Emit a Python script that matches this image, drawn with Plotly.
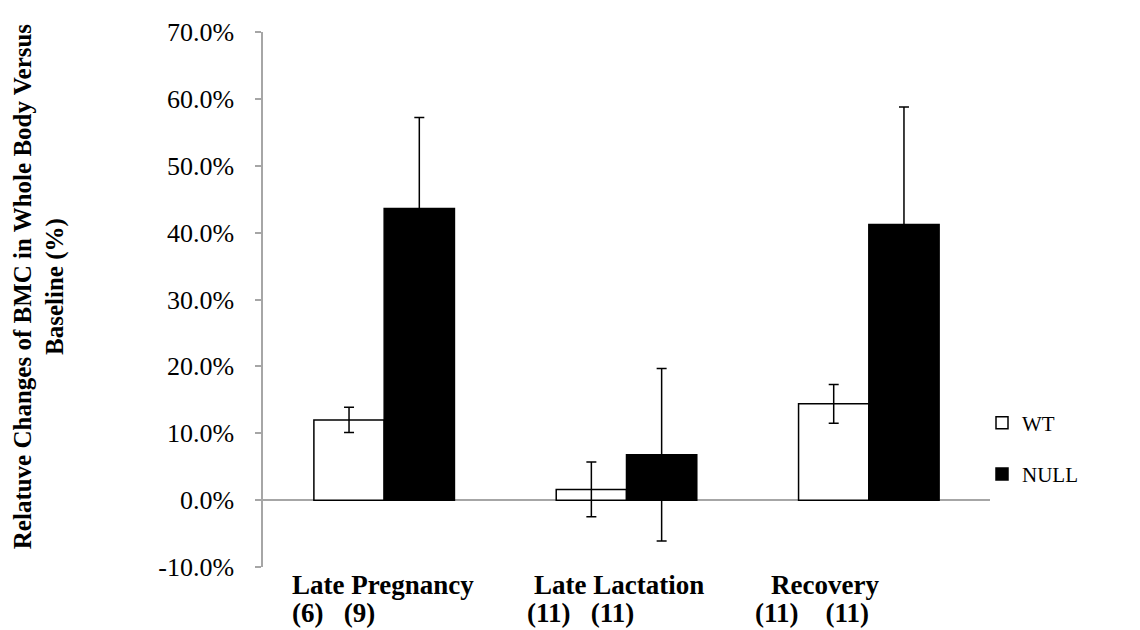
import plotly.graph_objects as go

categories = ["Late Pregnancy", "Late Lactation", "Recovery"]
group_sizes = ["(6)   (9)", "(11)   (11)", "(11)    (11)"]
wt_values = [12.0, 1.6, 14.4]
wt_errors = [1.9, 4.1, 2.9]
null_values = [43.6, 6.8, 41.2]
null_errors = [13.6, 12.9, 17.6]
tick_values = [-10, 0, 10, 20, 30, 40, 50, 60, 70]
tick_labels = ["-10.0%", "0.0%", "10.0%", "20.0%", "30.0%", "40.0%", "50.0%", "60.0%", "70.0%"]

SERIF = "Liberation Serif"

fig = go.Figure()
fig.add_trace(go.Bar(
    name="WT", x=categories, y=wt_values, legendgroup="a",
    marker=dict(color="white", line=dict(color="black", width=1.5)),
    error_y=dict(type="data", array=wt_errors, visible=True, color="black", thickness=1.5, width=5),
))
fig.add_trace(go.Bar(
    name="NULL", x=categories, y=null_values, legendgroup="b",
    marker=dict(color="black", line=dict(color="black", width=1.5)),
    error_y=dict(type="data", array=null_errors, visible=True, color="black", thickness=1.5, width=5),
))

line1_shift = [-94, -95, -100]
line2_shift = [-94, -102, -116]
annotations = []
for i, cat in enumerate(categories):
    annotations.append(dict(x=cat, xref="x", y=-0.034, yref="paper", text=f"<b>{cat}</b>",
                            showarrow=False, xanchor="left", yanchor="middle", xshift=line1_shift[i],
                            font=dict(family=SERIF, size=27, color="black")))
    annotations.append(dict(x=cat, xref="x", y=-0.086, yref="paper", text=f"<b>{group_sizes[i]}</b>",
                            showarrow=False, xanchor="left", yanchor="middle", xshift=line2_shift[i],
                            font=dict(family=SERIF, size=27, color="black")))
annotations.append(dict(x=-0.308, xref="paper", y=0.525, yref="paper", textangle=-90,
                        text="<b>Relatuve Changes of BMC in Whole Body Versus<br>Baseline (%)</b>",
                        showarrow=False, xanchor="center", yanchor="middle",
                        font=dict(family=SERIF, size=25, color="black")))

fig.update_layout(
    width=1140, height=630,
    margin=dict(l=263, r=150, t=32, b=63),
    paper_bgcolor="white", plot_bgcolor="white",
    barmode="group", bargap=0.42, bargroupgap=0,
    showlegend=True,
    legend=dict(x=0.989, xanchor="left", y=0.2215, yanchor="middle",
                font=dict(family=SERIF, size=21, color="black"),
                traceorder="grouped", tracegroupgap=21, bgcolor="rgba(0,0,0,0)"),
    annotations=annotations,
    font=dict(family=SERIF, color="black"),
)
fig.update_xaxes(showticklabels=False, showline=False, showgrid=False, ticks="")
fig.update_yaxes(range=[-10, 70], tickvals=tick_values, ticktext=tick_labels,
                 showgrid=False, showline=True, linecolor="#a6a6a6", linewidth=1.5,
                 ticks="outside", ticklen=6, tickcolor="#a6a6a6", tickwidth=1.5,
                 ticklabelstandoff=16,
                 zeroline=True, zerolinecolor="#a6a6a6", zerolinewidth=1.5,
                 tickfont=dict(family=SERIF, size=26, color="black"))

fig.write_html("out.html")
